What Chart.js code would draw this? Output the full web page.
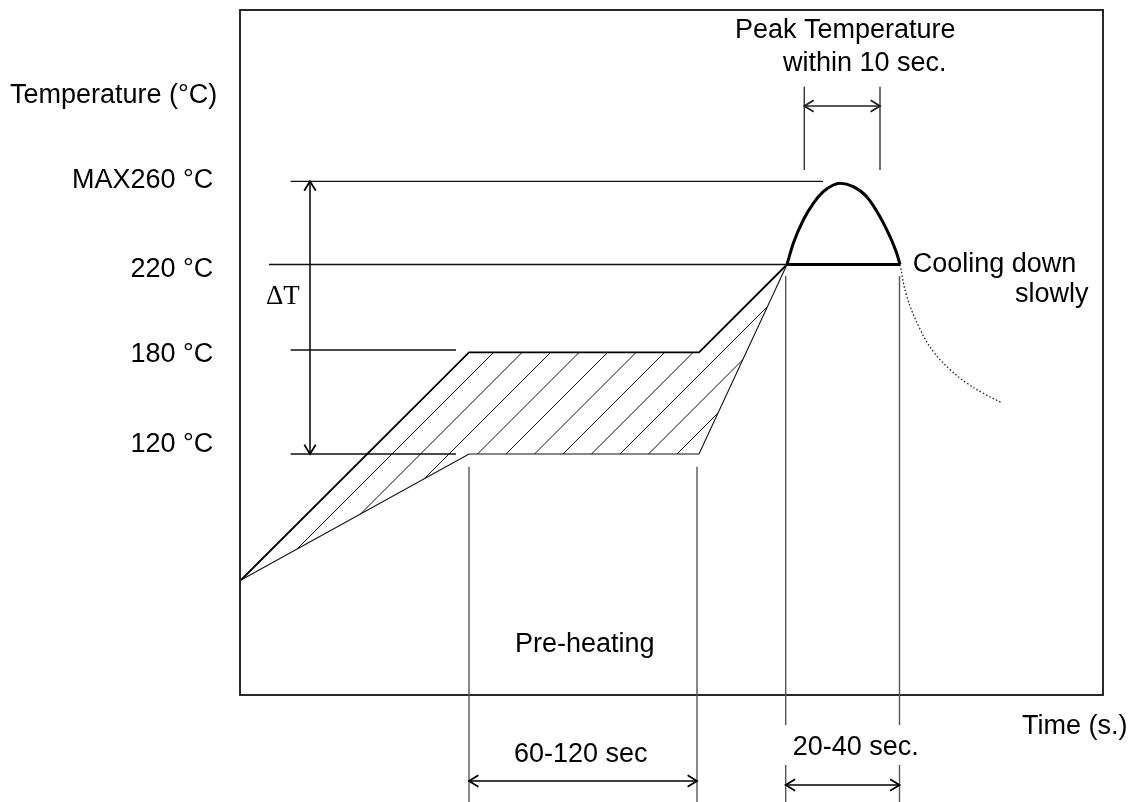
<!DOCTYPE html>
<html><head><meta charset="utf-8">
<script src="https://cdn.jsdelivr.net/npm/chart.js@4/dist/chart.umd.min.js"></script>
<style>html,body{margin:0;padding:0;background:#fff}canvas{display:block}</style>
</head><body>
<canvas id="c" width="1133" height="802"></canvas>
<script>
// ---- Schematic reflow-profile data (x: time position, y: temperature position) ----
const levelNames   = ['MAX260 °C', '220 °C', '180 °C', '120 °C'];
const levelY       = [513.7, 430.5, 345, 241];
const levelStartX  = [50.7, 29, 50.7, 50.7];
const levelEndX    = [583, 547, 216, 216];

const profileUpperX = [1, 229, 459, 547];
const profileUpperY = [115, 342.7, 342.7, 430.5];
const profileLowerX = [1, 229, 459, 547];
const profileLowerY = [115, 241, 241, 430.5];

const peakX = [547, 553.3, 563.3, 573.3, 583.3, 593.3, 600, 613.3, 626.7, 640, 650, 656.7, 660];
const peakY = [430.5, 451.7, 475, 491.7, 503.3, 510, 511.7, 508.3, 498.3, 478.3, 458.3, 441.7, 430.5];
const peakBaseX = [547, 660];

const coolX = [660, 666.7, 680, 693.3, 710, 726.7, 743.3, 761.7];
const coolY = [430.5, 399, 366, 343.5, 325.5, 312, 301.7, 292.3];

const preheatX   = [229, 457];        // 60-120 sec window
const reflowX    = [545.7, 659.5];    // 20-40 sec window
const peakWinX   = [564.3, 640];      // within 10 sec window
const deltaTX    = 70;

const axisTitles = ['Temperature (°C)', 'Time (s.)'];
const notes = ['ΔT', 'Peak Temperature', 'within 10 sec.', 'Cooling down', 'slowly', 'Pre-heating', '60-120 sec', '20-40 sec.'];

// ---- layout / style (positions of texts and guides, in chart units) ----
const GUIDE = { preTop: 228.3, reflowTop: 419, bottom: -107, peakTop: 608.3, peakBottom: 525,
                preArrowY: -86, reflowArrowY: -90, peakArrowY: 589 };
const TEXT_POS = {
  'Temperature (°C)': [-230, 591.7, 'left'],
  'Time (s.)': [782, -39, 'left'],
  'ΔT': [26, 391, 'left', 'serif'],
  'Peak Temperature': [495, 656.7, 'left'],
  'within 10 sec.': [543, 624.3, 'left'],
  'Cooling down': [672.7, 423.3, 'left'],
  'slowly': [775, 393.3, 'left'],
  'Pre-heating': [275, 43.3, 'left'],
  '60-120 sec': [274, -66.7, 'left'],
  '20-40 sec.': [552.7, -60, 'left', null, [539, -30, 688, -70]]
};
const LEVEL_LABEL_X = -26.7;
const LEVEL_LABEL_BASE = [506.7, 418.3, 333.3, 243.3];
const HATCH = { offset: 25, spacing: 28.5 };

const pts = (xs, ys) => xs.map((x, i) => ({x, y: ys[i]}));
const hline = (x0, x1, y) => [{x: x0, y}, {x: x1, y}];
const vline = (x, y0, y1) => [{x, y: y0}, {x, y: y1}];

const base = { showLine: true, pointRadius: 0, clip: false, fill: false, tension: 0 };
const datasets = [];
datasets.push({ ...base, label: 'upper', data: pts(profileUpperX, profileUpperY), borderColor: '#000', borderWidth: 1.8 });
datasets.push({ ...base, label: 'lower', data: pts(profileLowerX, profileLowerY), borderColor: '#111', borderWidth: 1.1 });
levelY.forEach((y, i) => datasets.push({ ...base, label: 'level' + i, data: hline(levelStartX[i], levelEndX[i], y), borderColor: '#111', borderWidth: 1.3 }));
datasets.push({ ...base, label: 'peak', data: pts(peakX, peakY), borderColor: '#000', borderWidth: 3, cubicInterpolationMode: 'monotone' });
datasets.push({ ...base, label: 'peakBase', data: hline(peakBaseX[0], peakBaseX[1], levelY[1]), borderColor: '#000', borderWidth: 3 });
datasets.push({ ...base, label: 'cool', data: pts(coolX, coolY), borderColor: '#222', borderWidth: 1.3, borderDash: [1.5, 2.2], tension: 0.4 });
preheatX.forEach((x, i) => datasets.push({ ...base, label: 'pre' + i, data: vline(x, GUIDE.preTop, GUIDE.bottom), borderColor: '#555', borderWidth: 1.4 }));
reflowX.forEach((x, i) => datasets.push({ ...base, label: 'ref' + i, data: vline(x, GUIDE.reflowTop, GUIDE.bottom), borderColor: '#555', borderWidth: 1.4 }));
peakWinX.forEach((x, i) => datasets.push({ ...base, label: 'pw' + i, data: vline(x, GUIDE.peakTop, GUIDE.peakBottom), borderColor: '#333', borderWidth: 1.4 }));
datasets.push({ ...base, label: 'dT', arrows: true, data: vline(deltaTX, levelY[0], levelY[3]), borderColor: '#000', borderWidth: 1.5 });
datasets.push({ ...base, label: 'preArrow', arrows: true, data: hline(preheatX[0], preheatX[1], GUIDE.preArrowY), borderColor: '#000', borderWidth: 1.5 });
datasets.push({ ...base, label: 'refArrow', arrows: true, data: hline(reflowX[0], reflowX[1], GUIDE.reflowArrowY), borderColor: '#000', borderWidth: 1.5 });
datasets.push({ ...base, label: 'pwArrow', arrows: true, data: hline(peakWinX[0], peakWinX[1], GUIDE.peakArrowY), borderColor: '#222', borderWidth: 1.5 });

const FONT = '27px "Liberation Sans", Arial, sans-serif';
const SERIF = '27px "Liberation Serif", "Times New Roman", serif';

const framePlugin = {
  id: 'frame',
  beforeDatasetsDraw(chart) {
    const {ctx, chartArea: a} = chart;
    ctx.save();
    ctx.strokeStyle = '#111'; ctx.lineWidth = 1.8;
    ctx.strokeRect(a.left, a.top, a.right - a.left, a.bottom - a.top);
    // hatch between upper and lower profile
    const up = chart.getDatasetMeta(0).data, lo = chart.getDatasetMeta(1).data;
    ctx.beginPath();
    up.forEach((p, i) => i ? ctx.lineTo(p.x, p.y) : ctx.moveTo(p.x, p.y));
    for (let i = lo.length - 1; i >= 0; i--) ctx.lineTo(lo[i].x, lo[i].y);
    ctx.closePath();
    ctx.clip();
    const all = up.concat(lo);
    const minY = Math.min(...all.map(p => p.y)), maxY = Math.max(...all.map(p => p.y));
    const maxC = Math.max(...all.map(p => p.x + p.y));
    ctx.strokeStyle = '#111'; ctx.lineWidth = 1;
    ctx.beginPath();
    for (let c = up[0].x + up[0].y + HATCH.offset; c <= maxC; c += HATCH.spacing) {
      ctx.moveTo(c - minY, minY); ctx.lineTo(c - maxY, maxY);
    }
    ctx.stroke();
    ctx.restore();
  },
  afterDatasetsDraw(chart) {
    const ctx = chart.ctx, xs = chart.scales.x, ys = chart.scales.y;
    ctx.save();
    // arrow heads
    chart.data.datasets.forEach((ds, i) => {
      if (!ds.arrows) return;
      const d = chart.getDatasetMeta(i).data;
      const ends = [[d[0], d[1]], [d[d.length - 1], d[d.length - 2]]];
      ctx.strokeStyle = ds.borderColor; ctx.lineWidth = 1.8;
      ends.forEach(([tip, from]) => {
        const ang = Math.atan2(tip.y - from.y, tip.x - from.x);
        const L = 11, W = 0.55;
        ctx.beginPath();
        ctx.moveTo(tip.x - L * Math.cos(ang - W), tip.y - L * Math.sin(ang - W));
        ctx.lineTo(tip.x, tip.y);
        ctx.lineTo(tip.x - L * Math.cos(ang + W), tip.y - L * Math.sin(ang + W));
        ctx.stroke();
      });
    });
    // texts
    ctx.fillStyle = '#000';
    ctx.textBaseline = 'alphabetic';
    axisTitles.concat(notes).forEach(t => {
      const p = TEXT_POS[t]; if (!p) return;
      if (p[4]) {
        const r = p[4];
        const x0 = xs.getPixelForValue(r[0]), y0 = ys.getPixelForValue(r[1]);
        const x1 = xs.getPixelForValue(r[2]), y1 = ys.getPixelForValue(r[3]);
        ctx.fillStyle = '#fff';
        ctx.fillRect(x0, y0, x1 - x0, y1 - y0);
        ctx.fillStyle = '#000';
      }
      ctx.font = p[3] === 'serif' ? SERIF : FONT;
      ctx.textAlign = p[2];
      ctx.fillText(t, xs.getPixelForValue(p[0]), ys.getPixelForValue(p[1]));
    });
    ctx.font = FONT; ctx.textAlign = 'right';
    levelNames.forEach((t, i) => ctx.fillText(t, xs.getPixelForValue(LEVEL_LABEL_X), ys.getPixelForValue(LEVEL_LABEL_BASE[i])));
    ctx.restore();
  }
};

new Chart(document.getElementById('c'), {
  type: 'scatter',
  data: { datasets },
  options: {
    responsive: false,
    animation: false,
    layout: { padding: { left: 240, top: 10, right: 30, bottom: 107 } },
    plugins: { legend: { display: false }, tooltip: { enabled: false } },
    scales: {
      x: { type: 'linear', min: 0, max: 863, display: false },
      y: { type: 'linear', min: 0, max: 685, display: false }
    }
  },
  plugins: [framePlugin]
});
</script>
</body></html>
